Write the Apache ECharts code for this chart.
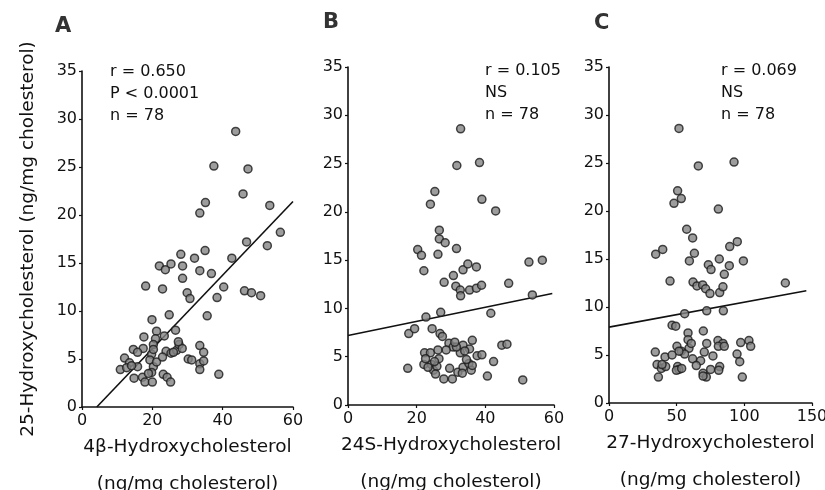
<!DOCTYPE html>
<html>
<head>
<meta charset="utf-8">
<script src="https://cdn.jsdelivr.net/npm/echarts@6/dist/echarts.min.js"></script>
<style>html,body{margin:0;padding:0;background:#fff}#c{width:825px;height:490px}</style>
</head>
<body>
<div id="c"></div>
<script>
// Panel A: 4β-Hydroxycholesterol vs 25-Hydroxycholesterol
const aX = [43.7,37.5,47.2,45.8,35.1,33.5,53.4,56.4,46.8,52.7,35.0,42.6,28.1,32.0,22.0,23.7,25.3,28.6,33.5,36.8,28.6,18.1,22.9,29.9,30.7,40.3,38.4,46.2,48.2,50.8,35.6,24.8,19.9,21.2,26.6,17.6,23.4,20.9,20.3,17.4,14.6,15.8,19.8,23.9,25.3,26.9,27.6,28.5,33.5,34.6,12.1,13.5,10.9,12.7,15.8,19.3,20.3,21.2,22.9,30.2,31.2,33.5,33.5,38.9,14.8,17.2,17.9,20.0,19.8,23.1,24.2,25.2,27.4,20.3,34.6,14.1,18.9,26.0];
const aY = [28.7,25.1,24.8,22.2,21.3,20.2,21.0,18.2,17.2,16.8,16.3,15.5,15.9,15.5,14.7,14.3,14.9,14.7,14.2,13.9,13.4,12.6,12.3,11.9,11.3,12.5,11.4,12.1,11.9,11.6,9.5,9.6,9.1,7.9,8.0,7.3,7.4,7.1,6.5,6.1,6.0,5.7,5.5,5.8,5.6,5.9,6.5,6.1,6.4,5.7,5.1,4.6,3.9,4.1,4.2,4.9,4.2,4.7,5.2,5.0,4.9,4.5,3.9,3.4,3.0,3.1,2.6,2.6,3.6,3.4,3.1,2.6,6.8,6.0,4.8,4.3,3.5,5.7];
const aFitX = [4.2, 60];
const aFitY = [0, 21.4];

// Panel B: 24S-Hydroxycholesterol vs 25-Hydroxycholesterol
const bX = [32.8,31.7,38.3,25.3,24.0,39.0,43.0,26.6,26.6,28.3,31.6,20.3,21.4,26.2,22.1,33.5,34.9,37.4,30.7,28.0,31.4,32.7,32.8,35.4,37.4,38.9,46.8,52.7,56.6,53.7,41.6,22.7,27.0,17.7,19.4,24.5,26.8,27.5,29.4,30.6,33.5,35.4,36.2,32.7,44.8,46.3,37.6,39.0,22.3,24.0,26.2,26.5,22.1,24.3,24.9,25.9,17.4,29.6,27.9,30.4,32.0,33.5,35.2,35.9,36.2,40.6,42.4,50.9,34.5,23.3,25.2,28.6,31.6,34.0,25.5,22.6,31.1,33.3];
const bY = [28.6,24.8,25.1,22.1,20.8,21.3,20.1,18.1,17.2,16.8,16.2,16.1,15.5,15.6,13.9,14.0,14.6,14.3,13.4,12.7,12.3,11.9,11.3,11.9,12.1,12.4,12.6,14.8,15.0,11.4,9.5,9.1,9.6,7.4,7.9,7.9,7.4,7.1,6.4,6.0,6.2,5.8,6.7,5.4,6.2,6.3,5.1,5.2,5.4,5.4,5.7,4.8,4.2,4.2,3.6,4.0,3.8,3.8,2.7,2.7,3.4,3.9,4.3,3.6,4.1,3.0,4.5,2.6,4.7,3.9,4.5,5.7,6.0,5.6,3.2,4.8,6.5,3.3];
const bFitX = [0, 59.5];
const bFitY = [7.2, 11.55];

// Panel C: 27-Hydroxycholesterol vs 25-Hydroxycholesterol
const cX = [51.7,66.0,92.4,50.7,48.0,53.4,80.8,57.4,61.8,63.1,59.4,34.5,39.7,89.2,94.8,99.3,81.5,88.9,73.4,75.4,85.2,45.1,62.1,65.0,69.2,71.4,74.6,81.8,84.2,130.3,72.2,55.9,84.5,46.6,49.3,58.4,58.4,69.7,72.2,80.5,84.2,80.8,85.2,97.3,103.4,104.7,50.2,59.1,53.4,55.9,51.7,70.4,34.2,41.4,46.6,61.8,67.7,76.8,94.6,96.6,35.5,38.7,41.9,50.7,51.7,64.5,69.5,71.9,75.1,81.8,81.1,36.5,98.5,49.8,60.8,69.5,53.7,39.2];
const cY = [28.6,24.7,25.1,22.1,20.8,21.3,20.2,18.1,17.2,15.6,14.8,15.5,16.0,16.3,16.8,14.8,15.0,14.3,14.4,13.9,13.4,12.7,12.6,12.2,12.3,11.9,11.4,11.5,12.1,12.5,9.6,9.3,9.6,8.1,8.0,7.3,6.6,7.5,6.2,6.5,6.2,5.9,5.9,6.3,6.5,5.9,5.9,5.7,5.4,5.1,5.4,5.3,5.3,4.8,5.0,4.6,4.4,4.9,5.1,4.3,4.0,3.6,3.8,3.8,3.5,3.9,3.1,2.7,3.5,3.8,3.4,2.7,2.7,3.4,6.2,2.8,3.6,4.0];
const cFitX = [0, 145.8];
const cFitY = [7.9, 11.7];

const yTicks = {min: 0, max: 35, interval: 5};
const xTicksAB = {min: 0, max: 60, interval: 20};
const xTicksC = {min: 0, max: 150, interval: 50};

const panelLetters = ['A', 'B', 'C'];
const statsA = ['r = 0.650', 'P < 0.0001', 'n = 78'];
const statsB = ['r = 0.105', 'NS', 'n = 78'];
const statsC = ['r = 0.069', 'NS', 'n = 78'];
const xNames = ['4β-Hydroxycholesterol', '24S-Hydroxycholesterol', '27-Hydroxycholesterol'];
const unitName = '(ng/mg cholesterol)';
const yName = '25-Hydroxycholesterol (ng/mg cholesterol)';

const FONT = 'DejaVu Sans';
const zip = (xs, ys) => xs.map((x, i) => [x, ys[i]]);

const grids = [
  {left: 82, top: 71, width: 211, height: 336, outerBoundsMode: 'none', containLabel: false},
  {left: 348, top: 67, width: 206, height: 338, outerBoundsMode: 'none', containLabel: false},
  {left: 609, top: 67, width: 203, height: 336, outerBoundsMode: 'none', containLabel: false}
];

function xAxis(i, t) {
  return {
    gridIndex: i, type: 'value', min: t.min, max: t.max, interval: t.interval,
    name: xNames[i] + '\n' + unitName, nameLocation: 'middle', nameGap: 22, nameMoveOverlap: false,
    nameTextStyle: {fontFamily: FONT, fontSize: 18.5, color: '#111', lineHeight: 37},
    axisLine: {show: true, onZero: false, lineStyle: {color: '#111', width: 1.6}},
    axisTick: {show: true, length: 3, lineStyle: {color: '#111', width: 1.2}},
    axisLabel: {fontFamily: FONT, fontSize: 16, color: '#111', margin: 6},
    splitLine: {show: false}
  };
}
function yAxis(i) {
  const o = {
    gridIndex: i, type: 'value', min: yTicks.min, max: yTicks.max, interval: yTicks.interval,
    axisLine: {show: true, onZero: false, lineStyle: {color: '#111', width: 1.6}},
    axisTick: {show: true, length: 3, lineStyle: {color: '#111', width: 1.2}},
    axisLabel: {fontFamily: FONT, fontSize: 16, color: '#111', margin: 5},
    splitLine: {show: false}
  };
  if (i === 0) {
    o.name = yName; o.nameLocation = 'middle'; o.nameGap = 44; o.nameMoveOverlap = false;
    o.nameTextStyle = {fontFamily: FONT, fontSize: 18.5, color: '#111'};
  }
  return o;
}
function scatter(i, xs, ys) {
  return {
    type: 'scatter', xAxisIndex: i, yAxisIndex: i, data: zip(xs, ys), symbolSize: 8,
    itemStyle: {color: '#858585', borderColor: '#1a1a1a', borderWidth: 1.5}, z: 3
  };
}
function fit(i, xs, ys) {
  return {
    type: 'line', xAxisIndex: i, yAxisIndex: i, data: zip(xs, ys), symbol: 'none',
    lineStyle: {color: '#111', width: 1.6}, z: 2, silent: true
  };
}
function textBlock(lines, left, top) {
  return lines.map((s, k) => ({
    type: 'text', left: left, top: top + k * 22,
    style: {text: s, font: '16px "' + FONT + '"', fill: '#111'}
  }));
}

const chart = echarts.init(document.getElementById('c'), null, {renderer: 'canvas'});
chart.setOption({
  backgroundColor: '#fff',
  animation: false,
  grid: grids,
  xAxis: [xAxis(0, xTicksAB), xAxis(1, xTicksAB), xAxis(2, xTicksC)],
  yAxis: [yAxis(0), yAxis(1), yAxis(2)],
  series: [
    scatter(0, aX, aY), fit(0, aFitX, aFitY),
    scatter(1, bX, bY), fit(1, bFitX, bFitY),
    scatter(2, cX, cY), fit(2, cFitX, cFitY)
  ],
  graphic: [
    {type: 'text', left: 55, top: 16, style: {text: panelLetters[0], font: 'bold 21px "' + FONT + '"', fill: '#333'}},
    {type: 'text', left: 323, top: 12, style: {text: panelLetters[1], font: 'bold 21px "' + FONT + '"', fill: '#333'}},
    {type: 'text', left: 594, top: 13, style: {text: panelLetters[2], font: 'bold 21px "' + FONT + '"', fill: '#333'}}
  ].concat(textBlock(statsA, 110, 64), textBlock(statsB, 485, 63), textBlock(statsC, 721, 63))
});
</script>
</body>
</html>
